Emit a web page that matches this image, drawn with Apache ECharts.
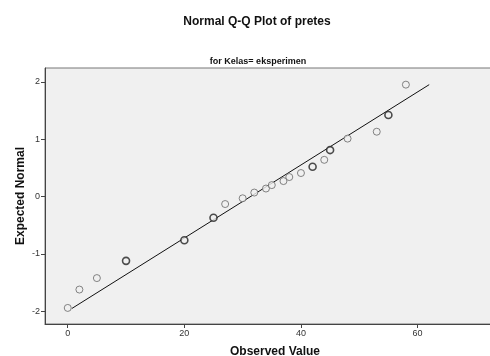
<!DOCTYPE html>
<html>
<head>
<meta charset="utf-8">
<script src="https://cdn.jsdelivr.net/npm/echarts@6/dist/echarts.min.js"></script>
<style>
html,body{margin:0;padding:0;background:#fff;}
#chart{width:490px;height:356px;}
</style>
</head>
<body>
<div id="chart"></div>
<script>
// observed values and expected normal values
var obsX = [0, 2, 5, 27, 30, 32, 34, 35, 37, 38, 40, 44, 48, 53, 58];
var expY = [-1.94, -1.62, -1.42, -0.13, -0.03, 0.07, 0.14, 0.20, 0.27, 0.34, 0.41, 0.64, 1.01, 1.13, 1.95];
// tied values (drawn darker as overlapping circles)
var tieX = [10, 20, 25, 42, 45, 55];
var tieY = [-1.12, -0.76, -0.37, 0.52, 0.81, 1.42];
// reference line end points
var lineX = [0.7, 62];
var lineY = [-1.95, 1.95];
var xTicks = [0, 20, 40, 60];
var yTicks = [-2, -1, 0, 1, 2];

function pairs(xs, ys){
	var out = [];
	for(var i=0;i<xs.length;i++){
		out.push([xs[i], ys[i]]);
	}
	return out;
}

var chart = echarts.init(document.getElementById("chart"));
var labelFont = {fontFamily:'Liberation Sans', fontSize:9, color:'#333'};
var option = {
	animation:false,
	title: [{
		text:'Normal Q-Q Plot of pretes',
		left:252, top:11, textAlign:'center',
		textStyle:{fontFamily:'Liberation Sans', fontSize:12, fontWeight:'bold', color:'#111'}
	},{
		text:'for Kelas= eksperimen',
		left:253, top:52, textAlign:'center',
		textStyle:{fontFamily:'Liberation Sans', fontSize:9, fontWeight:'bold', color:'#111'}
	}],
	grid: {
		show:true,
		left:45, top:68, right:-15, bottom:32,
		outerBoundsMode:'none',
		containLabel:false,
		backgroundColor:'#f0f0f0',
		borderColor:'#777',
		borderWidth:1
	},
	xAxis: {
		type:'value',
		min:-3.9, max:75,
		name:'Observed Value',
		nameLocation:'middle',
		nameGap:22,
		nameTextStyle:{fontFamily:'Liberation Sans', fontSize:12, fontWeight:'bold', color:'#111'},
		splitLine:{show:false},
		axisLine:{show:true, onZero:false, lineStyle:{color:'#444'}},
		axisTick:{show:true, length:4, customValues:xTicks, lineStyle:{color:'#444'}},
		axisLabel:Object.assign({customValues:xTicks, margin:5}, labelFont)
	},
	yAxis: {
		type:'value',
		min:-2.22, max:2.24,
		name:'Expected Normal',
		nameLocation:'middle',
		nameGap:18,
		nameMoveOverlap:false,
		nameTextStyle:{fontFamily:'Liberation Sans', fontSize:12, fontWeight:'bold', color:'#111'},
		splitLine:{show:false},
		axisLine:{show:true, onZero:false, lineStyle:{color:'#444'}},
		axisTick:{show:true, length:4, customValues:yTicks, lineStyle:{color:'#444'}},
		axisLabel:Object.assign({customValues:yTicks, margin:5}, labelFont)
	},
	series: [{
		type:'line',
		data:pairs(lineX, lineY),
		symbol:'none',
		lineStyle:{color:'#111', width:1},
		z:1
	},{
		type:'scatter',
		data:pairs(obsX, expY),
		symbol:'circle',
		symbolSize:7,
		itemStyle:{color:'#f0f0f0', borderColor:'#666', borderWidth:1},
		z:2
	},{
		type:'scatter',
		data:pairs(tieX, tieY),
		symbol:'circle',
		symbolSize:7,
		itemStyle:{color:'#f0f0f0', borderColor:'#222', borderWidth:1.6},
		z:3
	}]
};
chart.setOption(option);
</script>
</body>
</html>
